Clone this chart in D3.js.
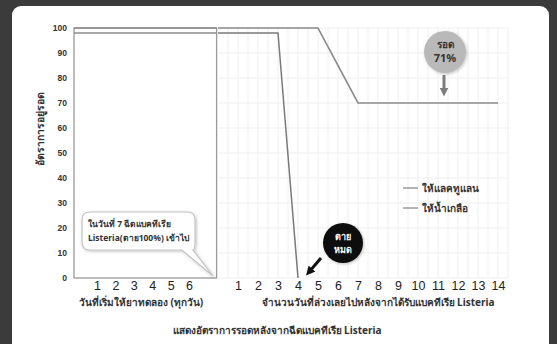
<!DOCTYPE html>
<html>
<head>
<meta charset="utf-8">
<script src="https://cdn.jsdelivr.net/npm/d3@7"></script>
<style>
  body { margin: 0; background: #3b3b3b; }
  svg { display: block; font-family: "Noto Sans", "DejaVu Sans", sans-serif; }
</style>
</head>
<body>
<div class="canvas"></div>
<script>
// data
const yTicks = [0, 10, 20, 30, 40, 50, 60, 70, 80, 90, 100];
const treatDays = [1, 2, 3, 4, 5, 6];           // left panel ticks
const days = [1, 2, 3, 4, 5, 6, 7, 8, 9, 10, 11, 12, 13, 14]; // right panel ticks

// survival in the treatment period (flat)
const treatLact = 100;
const treatSaline = 98;

// survival after Listeria injection
const lactDays = [0, 1, 2, 3, 4, 5, 6, 7, 8, 9, 10, 11, 12, 13, 14];
const lactVals = [100, 100, 100, 100, 100, 100, 85, 70, 70, 70, 70, 70, 70, 70, 70];
const salDays = [0, 1, 2, 3, 4];
const salVals = [98, 98, 98, 98, 0];

const seriesNames = ['ให้แลคทูแลน', 'ให้น้ำเกลือ'];

const svg = d3.select('.canvas')
    .append('svg')
    .attr('width', 557)
    .attr('height', 344);

// dark frame + white card
svg.append('rect').attr('width', 557).attr('height', 344).attr('fill', '#3b3b3b');
svg.append('rect')
    .attr('x', 12).attr('y', 6)
    .attr('width', 537).attr('height', 360)
    .attr('rx', 9)
    .attr('fill', '#fff');

const defs = svg.append('defs');
const shadow = defs.append('filter').attr('id', 'sh').attr('x', '-30%').attr('y', '-30%').attr('width', '160%').attr('height', '160%');
shadow.append('feDropShadow').attr('dx', 1).attr('dy', 1).attr('stdDeviation', 1.5).attr('flood-color', '#000').attr('flood-opacity', 0.25);

// scales
const y = d3.scaleLinear().domain([0, 100]).range([278, 28]);
const xL = d3.scaleLinear().domain([-0.25, 7.5]).range([74, 216.6]);
const xR = d3.scaleLinear().domain([0, 14.5]).range([218, 508]);

// faint grid on the right panel
const grid = svg.append('g').attr('stroke', '#efefef').attr('stroke-width', 1);
grid.selectAll('.h').data(yTicks).enter().append('line')
    .attr('x1', xR(0)).attr('x2', xR(14.5))
    .attr('y1', d => y(d)).attr('y2', d => y(d));
grid.selectAll('.v').data(d3.range(0.5, 14.6, 0.5)).enter().append('line')
    .attr('x1', d => xR(d)).attr('x2', d => xR(d))
    .attr('y1', y(100)).attr('y2', y(0));

// left panel box
svg.append('rect')
    .attr('x', xL(-0.25)).attr('y', y(100))
    .attr('width', xL(7.5) - xL(-0.25)).attr('height', y(0) - y(100))
    .attr('fill', 'none')
    .attr('stroke', '#9a9a9a')
    .attr('stroke-width', 1.3);

// y axis
const yAxis = d3.axisLeft(y).tickValues(yTicks).tickSize(0).tickPadding(7);
const yG = svg.append('g').attr('transform', `translate(${xL(-0.25)},0)`).call(yAxis);
yG.select('.domain').remove();
yG.selectAll('text')
    .attr('font-size', 8.5)
    .attr('font-weight', 'bold')
    .attr('fill', '#333');

// x axes
const xLAxis = d3.axisBottom(xL).tickValues(treatDays).tickSize(0).tickPadding(3);
const xLG = svg.append('g').attr('transform', `translate(0,${y(0)})`).call(xLAxis);
xLG.select('.domain').remove();

const xRAxis = d3.axisBottom(xR).tickValues(days).tickSize(0).tickPadding(3);
const xRG = svg.append('g').attr('transform', `translate(0,${y(0)})`).call(xRAxis);
xRG.select('.domain').remove();

[xLG, xRG].forEach(g => g.selectAll('text')
    .attr('font-size', 12.5)
    .attr('fill', '#222'));

// lines
const line = d3.line().x(d => xR(d[0])).y(d => y(d[1]));
const lineColor = '#8c8c8c';

// treatment period
svg.append('line')
    .attr('x1', xL(-0.25)).attr('x2', xL(7.5))
    .attr('y1', y(treatLact)).attr('y2', y(treatLact))
    .attr('stroke', lineColor).attr('stroke-width', 1.5);
svg.append('line')
    .attr('x1', xL(-0.25)).attr('x2', xL(7.5))
    .attr('y1', y(treatSaline)).attr('y2', y(treatSaline))
    .attr('stroke', lineColor).attr('stroke-width', 1.5);

svg.append('path')
    .datum(lactDays.map((d, i) => [d, lactVals[i]]))
    .attr('d', line)
    .attr('fill', 'none')
    .attr('stroke', lineColor)
    .attr('stroke-width', 1.6);

svg.append('path')
    .datum(salDays.map((d, i) => [d, salVals[i]]))
    .attr('d', line)
    .attr('fill', 'none')
    .attr('stroke', '#7a7a7a')
    .attr('stroke-width', 1.5);

// legend
const legend = svg.append('g').attr('transform', 'translate(403,188)');
seriesNames.forEach((name, i) => {
    legend.append('line')
        .attr('x1', 0).attr('x2', 15)
        .attr('y1', i * 20).attr('y2', i * 20)
        .attr('stroke', lineColor).attr('stroke-width', 1.3);
    legend.append('text')
        .attr('x', 19).attr('y', i * 20 + 4)
        .attr('font-size', 10)
        .attr('font-weight', 'bold')
        .attr('fill', '#333')
        .text(name);
});

// axis titles
svg.append('text')
    .attr('transform', 'translate(44,129) rotate(-90)')
    .attr('text-anchor', 'middle')
    .attr('font-size', 10.5)
    .attr('font-weight', 'bold')
    .attr('fill', '#333')
    .text('อัตราการอยู่รอด');

svg.append('text')
    .attr('x', 141).attr('y', 306)
    .attr('text-anchor', 'middle')
    .attr('font-size', 10)
    .attr('font-weight', 'bold')
    .attr('fill', '#333')
    .text('วันที่เริ่มให้ยาทดลอง (ทุกวัน)');

svg.append('text')
    .attr('x', 378).attr('y', 306)
    .attr('text-anchor', 'middle')
    .attr('font-size', 10)
    .attr('font-weight', 'bold')
    .attr('fill', '#333')
    .text('จำนวนวันที่ล่วงเลยไปหลังจากได้รับแบคทีเรีย Listeria');

svg.append('text')
    .attr('x', 277).attr('y', 334)
    .attr('text-anchor', 'middle')
    .attr('font-size', 10)
    .attr('font-weight', 'bold')
    .attr('fill', '#333')
    .text('แสดงอัตราการรอดหลังจากฉีดแบคทีเรีย Listeria');

// callout in left panel
const bubble = d3.path();
bubble.moveTo(90, 212);
bubble.lineTo(187, 212);
bubble.quadraticCurveTo(195, 212, 195, 220);
bubble.lineTo(195, 242);
bubble.quadraticCurveTo(195, 250, 193, 250);
bubble.lineTo(213, 276);
bubble.lineTo(182, 250);
bubble.lineTo(90, 250);
bubble.quadraticCurveTo(82, 250, 82, 242);
bubble.lineTo(82, 220);
bubble.quadraticCurveTo(82, 212, 90, 212);
bubble.closePath();
svg.append('path')
    .attr('d', bubble.toString())
    .attr('fill', '#fff')
    .attr('stroke', '#c4c4c4')
    .attr('stroke-width', 1.2)
    .attr('filter', 'url(#sh)');
svg.append('text').attr('x', 88).attr('y', 227)
    .attr('font-size', 8.5).attr('font-weight', 'bold').attr('fill', '#333')
    .text('ในวันที่ 7 ฉีดแบคทีเรีย');
svg.append('text').attr('x', 88).attr('y', 241)
    .attr('font-size', 8.5).attr('font-weight', 'bold').attr('fill', '#333')
    .text('Listeria(ตาย100%) เข้าไป');

// arrow markers
function marker(id, color) {
    defs.append('marker')
        .attr('id', id)
        .attr('viewBox', '0 0 10 10')
        .attr('refX', 5).attr('refY', 5)
        .attr('markerWidth', 3).attr('markerHeight', 3)
        .attr('orient', 'auto')
        .append('path')
        .attr('d', 'M0,0 L10,5 L0,10 z')
        .attr('fill', color);
}
marker('arrGray', '#7d7d7d');
marker('arrBlack', '#111');

// "survived 71%" badge
svg.append('circle')
    .attr('cx', xR(11.35)).attr('cy', 52).attr('r', 21)
    .attr('fill', '#b9b9b9')
    .attr('filter', 'url(#sh)');
svg.append('text').attr('x', xR(11.35)).attr('y', 48)
    .attr('text-anchor', 'middle').attr('font-size', 10).attr('font-weight', 'bold').attr('fill', '#333')
    .text('รอด');
svg.append('text').attr('x', xR(11.35)).attr('y', 62)
    .attr('text-anchor', 'middle').attr('font-size', 11).attr('font-weight', 'bold').attr('fill', '#333')
    .text('71%');
svg.append('line')
    .attr('x1', xR(11.3)).attr('x2', xR(11.3))
    .attr('y1', 75).attr('y2', 92)
    .attr('stroke', '#7d7d7d').attr('stroke-width', 3)
    .attr('marker-end', 'url(#arrGray)');

// "all dead" badge
svg.append('circle')
    .attr('cx', xR(6.25)).attr('cy', 243).attr('r', 20)
    .attr('fill', '#111')
    .attr('filter', 'url(#sh)');
svg.append('text').attr('x', xR(6.25)).attr('y', 240)
    .attr('text-anchor', 'middle').attr('font-size', 9).attr('font-weight', 'bold').attr('fill', '#fff')
    .text('ตาย');
svg.append('text').attr('x', xR(6.25)).attr('y', 253)
    .attr('text-anchor', 'middle').attr('font-size', 9).attr('font-weight', 'bold').attr('fill', '#fff')
    .text('หมด');
svg.append('line')
    .attr('x1', 321).attr('x2', 309)
    .attr('y1', 258).attr('y2', 272)
    .attr('stroke', '#111').attr('stroke-width', 3)
    .attr('marker-end', 'url(#arrBlack)');
</script>
</body>
</html>
